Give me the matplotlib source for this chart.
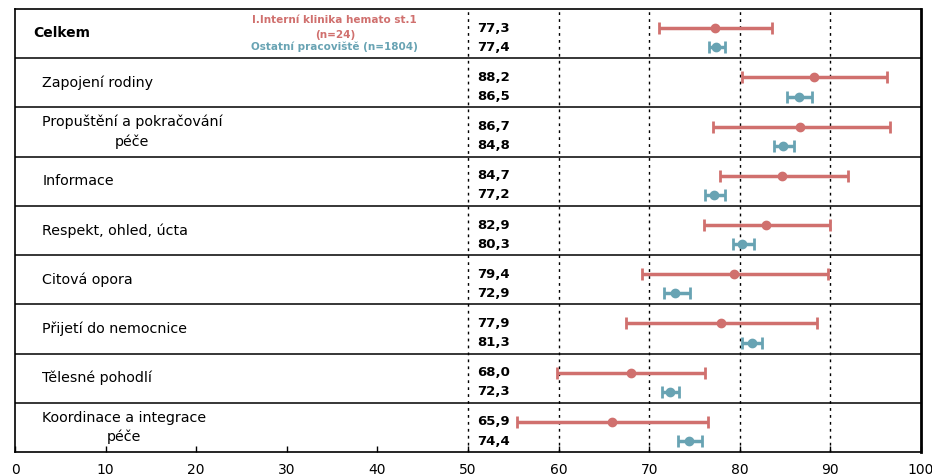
import numpy as np
import matplotlib
matplotlib.use('Agg')
import matplotlib.pyplot as plt

plt.rcParams['font.family'] = 'DejaVu Sans'

categories = ['Celkem', 'Zapojení rodiny', 'Propuštění a pokračování\npéče', 'Informace',
              'Respekt, ohled, úcta', 'Citová opora', 'Přijetí do nemocnice',
              'Tělesné pohodlí', 'Koordinace a integrace\npéče']
red_mean = [77.3, 88.2, 86.7, 84.7, 82.9, 79.4, 77.9, 68.0, 65.9]
red_lo = [71.1, 80.2, 77.0, 77.8, 76.1, 69.2, 67.5, 59.8, 55.4]
red_hi = [83.6, 96.3, 96.6, 91.9, 90.0, 89.7, 88.5, 76.2, 76.5]
blue_mean = [77.4, 86.5, 84.8, 77.2, 80.3, 72.9, 81.3, 72.3, 74.4]
blue_lo = [76.6, 85.2, 83.8, 76.2, 79.3, 71.6, 80.2, 71.4, 73.2]
blue_hi = [78.4, 88.0, 86.0, 78.4, 81.6, 74.5, 82.5, 73.3, 75.8]
red_label = 'I.Interní klinika hemato st.1\n(n=24)'
blue_label = 'Ostatní pracoviště (n=1804)'
xticks = np.arange(0, 101, 10)

red = '#d0706e'
blue = '#68a3b3'

fig = plt.figure(figsize=(9.32, 4.76), dpi=100)
ax = fig.add_axes([0.0161, 0.0504, 0.972, 0.931])

n = len(categories)
rows = np.arange(n)
red_y = rows + 0.39
blue_y = rows + 0.78

for xv in [50, 60, 70, 80, 90]:
    ax.axvline(xv, color='black', lw=1, ls=(0, (2, 3)), zorder=1)
for r in range(1, n):
    ax.axhline(r, color='black', lw=1.1, zorder=2)

rm = np.array(red_mean); bm = np.array(blue_mean)
ax.errorbar(rm, red_y, xerr=[rm - np.array(red_lo), np.array(red_hi) - rm],
            fmt='o', color=red, ms=6, elinewidth=2.5, capsize=4, capthick=2, zorder=3)
ax.errorbar(bm, blue_y, xerr=[bm - np.array(blue_lo), np.array(blue_hi) - bm],
            fmt='o', color=blue, ms=6, elinewidth=2.5, capsize=4, capthick=2, zorder=3)

for i, cat in enumerate(categories):
    if i == 0:
        ax.text(2.0, i + 0.5, cat, ha='left', va='center', fontsize=10, fontweight='bold')
    else:
        ax.text(3.0, i + 0.5, cat, ha='left', va='center', fontsize=10.3,
                multialignment='center', linespacing=1.45)
    ax.text(51.0, red_y[i], f'{red_mean[i]:.1f}'.replace('.', ','), ha='left', va='center',
            fontsize=9.5, fontweight='bold')
    ax.text(51.0, blue_y[i], f'{blue_mean[i]:.1f}'.replace('.', ','), ha='left', va='center',
            fontsize=9.5, fontweight='bold')

ax.text(35.3, 0.38, red_label, ha='center', va='center', fontsize=7.5, fontweight='bold',
        color=red, linespacing=1.6)
ax.text(35.3, 0.77, blue_label, ha='center', va='center', fontsize=7.5, fontweight='bold',
        color=blue)

ax.set_xlim(0, 100)
ax.set_ylim(n, 0)
ax.set_xticks(xticks)
ax.set_yticks([])
ax.tick_params(axis='x', direction='in', length=4, width=1, labelsize=10, pad=8)
for s in ['left', 'top', 'bottom']:
    ax.spines[s].set_linewidth(1.2)
ax.spines['right'].set_linewidth(2)

fig.savefig('out.png', dpi=100)
